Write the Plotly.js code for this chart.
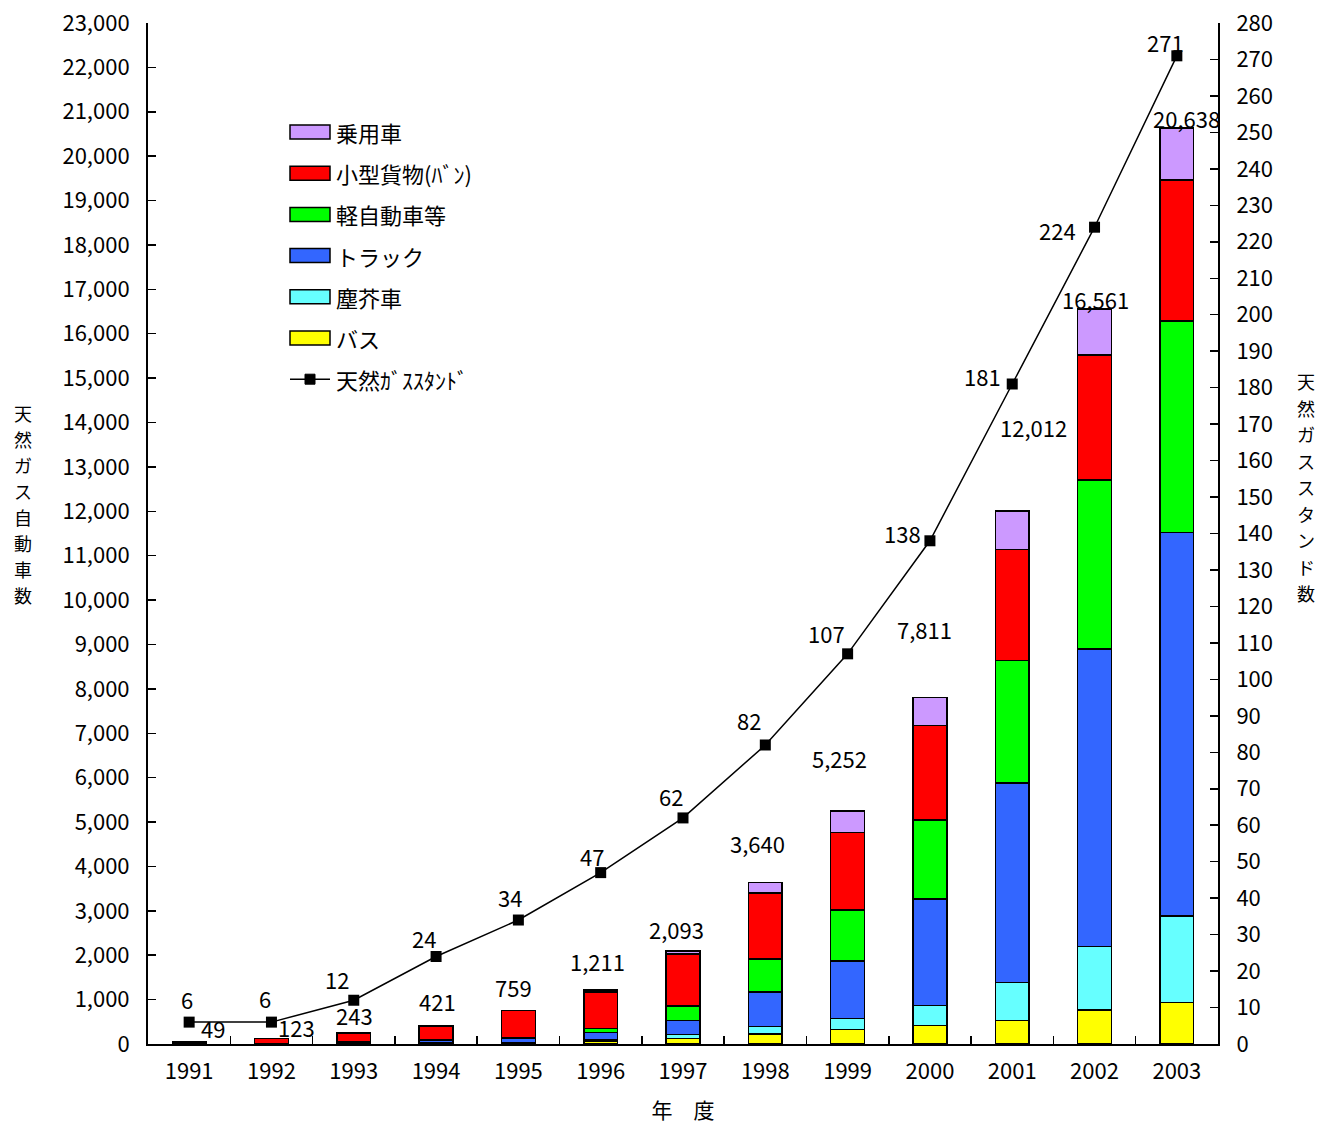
<!DOCTYPE html>
<html>
<head>
<meta charset="utf-8">
<script src="https://cdn.plot.ly/plotly-3.0.1.min.js"></script>
<style>html,body{margin:0;padding:0;background:#fff;}</style>
</head>
<body>
<div id="chart" style="width:1321px;height:1124px;"></div>
<script>
// ---- data ----
const years = ['1991','1992','1993','1994','1995','1996','1997','1998','1999','2000','2001','2002','2003'];
const bus       = [5, 2, 5, 10, 15, 60, 128, 225, 331, 416, 524, 766, 932];          // バス
const packer    = [10, 5, 10, 15, 20, 30, 90, 165, 239, 449, 866, 1431, 1956];      // 塵芥車
const truck     = [10, 5, 20, 60, 95, 165, 308, 780, 1300, 2397, 4485, 6703, 8637]; // トラック
const kei       = [2, 1, 5, 10, 10, 90, 330, 750, 1149, 1789, 2763, 3803, 4765];    // 軽自動車等
const van       = [20, 108, 198, 316, 610, 826, 1171, 1487, 1750, 2123, 2505, 2820, 3176]; // 小型貨物(バン)
const car       = [2, 2, 5, 10, 9, 40, 66, 233, 483, 637, 869, 1038, 1172];         // 乗用車
const stations  = [6, 6, 12, 24, 34, 47, 62, 82, 107, 138, 181, 224, 271];          // 天然ガススタンド

const seriesNames = ['バス','塵芥車','トラック','軽自動車等','小型貨物(ﾊﾞﾝ)','乗用車'];
const lineName = '天然ｶﾞｽｽﾀﾝﾄﾞ';
const leftTitle = '天然ガス自動車数';
const rightTitle = '天然ガススタンド数';
const xTitle = '年　度';

// ---- styles / label placement (pixels) ----
const colors = ['#FFFF00','#66FFFF','#3366FF','#00FF00','#FF0000','#CC99FF'];
const totalShift = [[24,14],[25,12],[1,18],[1,24],[-5,23],[-3,29],[-7,22],[-8,39],[-8,53],[-5,68],[21,84],[1,10],[10,10]];
const stationShift = [[-2,23],[-6,24],[-17,21],[-12,18],[-8,23],[-9,17],[-12,22],[-16,25],[-21,21],[-27,8],[-30,8],[-37,-3],[-11,14]];

const FONT = '"Noto Sans CJK JP", "Noto Sans", sans-serif';
const CJK = '"Noto Sans CJK JP", "Noto Sans", sans-serif';
const W = 1321, H = 1124, ML = 148, MR = 103, MT = 23, MB = 80;
const PW = W - ML - MR, PH = H - MT - MB;
const px2x = px => (px - ML) / PW;
const px2y = py => (H - MB - py) / PH;

const seriesVals = [bus, packer, truck, kei, van, car];
const totals = years.map((_, i) => seriesVals.reduce((s, a) => s + a[i], 0));
const idx = years.map((_, i) => i);

const traces = seriesVals.map((vals, k) => ({
  type: 'bar',
  name: seriesNames[k],
  x: years,
  y: vals,
  marker: {color: colors[k], line: {color: '#000', width: 1.5}},
  showlegend: false,
  hoverinfo: 'none'
}));
traces.push({
  type: 'scatter',
  mode: 'lines+markers',
  name: lineName,
  x: years,
  y: stations,
  yaxis: 'y2',
  line: {color: '#000', width: 1.5},
  marker: {symbol: 'square', size: 11, color: '#000'},
  showlegend: false,
  hoverinfo: 'none'
});

const fmt = v => v.toLocaleString('en-US');
const annotations = [];
const shapes = [];
idx.forEach(i => {
  annotations.push({
    x: i, y: totals[i], xref: 'x', yref: 'y', text: fmt(totals[i]),
    showarrow: false, xshift: totalShift[i][0], yshift: totalShift[i][1],
    font: {family: FONT, size: 22, color: '#000'}
  });
  annotations.push({
    x: i, y: stations[i], xref: 'x', yref: 'y2', text: String(stations[i]),
    showarrow: false, xshift: stationShift[i][0], yshift: stationShift[i][1],
    font: {family: FONT, size: 22, color: '#000'}
  });
});

// vertical (upright) axis titles, one character per row
function verticalTitle(str, cx, cy, step) {
  const chars = str.split('');
  const n = chars.length;
  chars.forEach((c, j) => {
    annotations.push({
      xref: 'paper', yref: 'paper', x: px2x(cx), y: px2y(cy + (j - (n - 1) / 2) * step),
      xanchor: 'center', yanchor: 'middle', showarrow: false, text: c, borderpad: 0,
      font: {family: CJK, size: 18, color: '#000'}
    });
  });
}
verticalTitle(leftTitle, 23, 504, 26);
verticalTitle(rightTitle, 1306, 487, 26.5);

// legend drawn as swatches + labels
const legendOrder = [5, 4, 3, 2, 1, 0];
const legRow0 = 132, legStep = 41.2;
legendOrder.forEach((k, r) => {
  const cy = legRow0 + r * legStep;
  shapes.push({
    type: 'rect', xref: 'paper', yref: 'paper',
    x0: px2x(290), x1: px2x(330), y0: px2y(cy - 7), y1: px2y(cy + 7),
    fillcolor: colors[k], line: {color: '#000', width: 1.5}
  });
  annotations.push({
    xref: 'paper', yref: 'paper', x: px2x(334), y: px2y(cy), xanchor: 'left', yanchor: 'middle',
    showarrow: false, text: seriesNames[k], font: {family: CJK, size: 22, color: '#000'}
  });
});
{
  const cy = legRow0 + 6 * legStep;
  shapes.push({
    type: 'line', xref: 'paper', yref: 'paper',
    x0: px2x(290), x1: px2x(330), y0: px2y(cy), y1: px2y(cy), line: {color: '#000', width: 1.5}
  });
  shapes.push({
    type: 'rect', xref: 'paper', yref: 'paper',
    x0: px2x(305), x1: px2x(315), y0: px2y(cy - 5), y1: px2y(cy + 5),
    fillcolor: '#000', line: {color: '#000', width: 1}
  });
  annotations.push({
    xref: 'paper', yref: 'paper', x: px2x(334), y: px2y(cy), xanchor: 'left', yanchor: 'middle',
    showarrow: false, text: lineName, font: {family: CJK, size: 22, color: '#000'}
  });
}

const layout = {
  width: W, height: H,
  margin: {l: ML, r: MR, t: MT, b: MB, pad: 0},
  paper_bgcolor: '#fff', plot_bgcolor: '#fff',
  font: {family: FONT, size: 22, color: '#000'},
  barmode: 'stack',
  bargap: 0.59,
  showlegend: false,
  xaxis: {
    type: 'category',
    range: [-0.5, 12.5],
    showline: true, linecolor: '#000', linewidth: 2,
    ticks: 'inside', ticklen: 8, tickwidth: 1.5, tickcolor: '#000',
    tickson: 'boundaries',
    showgrid: false, zeroline: false,
    ticklabelstandoff: 7,
    tickfont: {family: FONT, size: 22},
    title: {text: xTitle, standoff: 21, font: {family: CJK, size: 21}}
  },
  yaxis: {
    range: [0, 23000], dtick: 1000, tick0: 0,
    tickformat: ',d',
    showline: true, linecolor: '#000', linewidth: 2,
    ticks: 'inside', ticklen: 8, tickwidth: 1.5, tickcolor: '#000',
    showgrid: false, zeroline: false,
    ticklabelstandoff: 12,
    tickfont: {family: FONT, size: 22}
  },
  yaxis2: {
    range: [0, 280], dtick: 10, tick0: 0,
    overlaying: 'y', side: 'right',
    showline: true, linecolor: '#000', linewidth: 2,
    ticks: 'inside', ticklen: 8, tickwidth: 1.5, tickcolor: '#000',
    showgrid: false, zeroline: false,
    ticklabelstandoff: 12,
    tickfont: {family: FONT, size: 22}
  },
  shapes: shapes,
  annotations: annotations
};

Plotly.newPlot('chart', traces, layout, {displayModeBar: false, staticPlot: true});
</script>
</body>
</html>
